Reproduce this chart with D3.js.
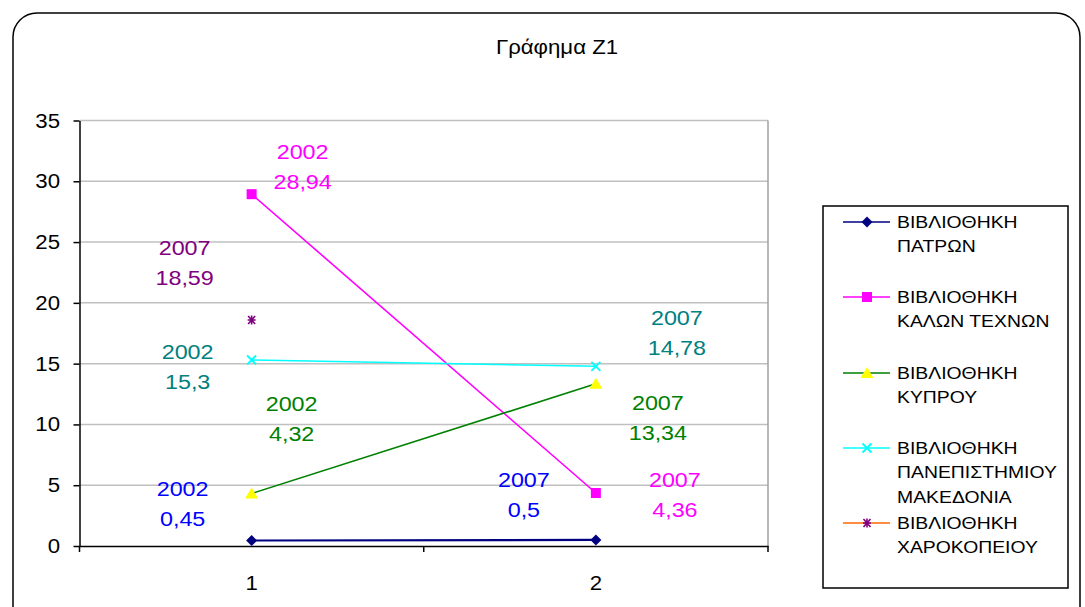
<!DOCTYPE html>
<html>
<head>
<meta charset="utf-8">
<script src="https://cdn.jsdelivr.net/npm/d3@7"></script>
<style>
  body { margin: 0; background: #fff; }
  text { font-family: "Liberation Sans", Arial, sans-serif; }
</style>
</head>
<body>
<div id="chart"></div>
<script>
// values
const categories = ['1', '2'];
const seriesNames = [
  ['ΒΙΒΛΙΟΘΗΚΗ', 'ΠΑΤΡΩΝ'],
  ['ΒΙΒΛΙΟΘΗΚΗ', 'ΚΑΛΩΝ ΤΕΧΝΩΝ'],
  ['ΒΙΒΛΙΟΘΗΚΗ', 'ΚΥΠΡΟΥ'],
  ['ΒΙΒΛΙΟΘΗΚΗ', 'ΠΑΝΕΠΙΣΤΗΜΙΟΥ', 'ΜΑΚΕΔΟΝΙΑ'],
  ['ΒΙΒΛΙΟΘΗΚΗ', 'ΧΑΡΟΚΟΠΕΙΟΥ']
];
const patron = [0.45, 0.5];
const kalonTexnon = [28.94, 4.36];
const kyprou = [4.32, 13.34];
const makedonia = [15.3, 14.78];
const xarokopeiou = [18.59, null];
const yearLabels = [
  ['2002', '2007'],
  ['2002', '2007'],
  ['2002', '2007'],
  ['2002', '2007'],
  ['2007', null]
];
const yTicks = [0, 5, 10, 15, 20, 25, 30, 35];

// styles per series
const styles = [
  {line: '#000080', marker: 'diamond', fill: '#000080', stroke: '#000080', label: '#0000ff'},
  {line: '#ff00ff', marker: 'square', fill: '#ff00ff', stroke: '#ff00ff', label: '#ff00ff'},
  {line: '#008000', marker: 'triangle', fill: '#ffff00', stroke: '#ffff00', label: '#008000'},
  {line: '#00ffff', marker: 'cross', fill: 'none', stroke: '#00ffff', label: '#008080'},
  {line: '#ff6600', marker: 'star', fill: 'none', stroke: '#800080', label: '#800080'}
];
// pixel offsets of each data label from its point
const labelOffsets = [
  [[-69, -52], [-72, -60]],
  [[51, -43], [79, -13]],
  [[40, -90], [62, 19]],
  [[-64, -8], [81, -49]],
  [[-67, -72], null]
];

const allSeries = [patron, kalonTexnon, kyprou, makedonia, xarokopeiou];

const W = 1085, H = 607, SX = 1.14;
const svg = d3.select('#chart').append('svg').attr('width', W).attr('height', H);

function label(g, x, y, txt, size, color, anchor) {
  return g.append('text')
    .attr('transform', 'translate(' + x + ',' + y + ') scale(' + SX + ',1)')
    .attr('text-anchor', anchor || 'middle')
    .attr('dy', '0.36em')
    .attr('font-size', size)
    .attr('fill', color || '#000')
    .text(txt);
}

// outer frame
svg.append('rect')
  .attr('x', 13).attr('y', 13).attr('width', 1067).attr('height', 620)
  .attr('rx', 24).attr('ry', 24)
  .attr('fill', '#fff').attr('stroke', '#000').attr('stroke-width', 1.5);

label(svg, 557, 47, 'Γράφημα Z1', 19.5);

const pLeft = 79.5, pRight = 768, pTop = 120.5, pBottom = 546;

const x = d3.scaleBand().domain(categories).range([pLeft, pRight]);
const y = d3.scaleLinear().domain([0, 35]).range([pBottom, pTop]);
const cx = c => x(c) + x.bandwidth() / 2;

// gridlines
svg.append('g').selectAll('line').data(yTicks.filter(d => d > 0)).join('line')
  .attr('x1', pLeft).attr('x2', pRight)
  .attr('y1', d => y(d)).attr('y2', d => y(d))
  .attr('stroke', '#c0c0c0').attr('stroke-width', 1.5);
svg.append('line')
  .attr('x1', pRight).attr('x2', pRight).attr('y1', pTop).attr('y2', pBottom)
  .attr('stroke', '#a0a0a0').attr('stroke-width', 1.5);

// y axis
const yAxis = svg.append('g').attr('transform', 'translate(' + pLeft + ',0)')
  .call(d3.axisLeft(y).tickValues(yTicks).tickSize(6).tickSizeOuter(0));
yAxis.select('.domain').attr('stroke', '#000').attr('stroke-width', 1.5);
yAxis.selectAll('.tick line').attr('stroke', '#000').attr('stroke-width', 1.5);
yAxis.selectAll('.tick text').remove();
yTicks.forEach(t => label(svg, 60, y(t), String(t), 19.5, '#000', 'end'));

// x axis
const xAxis = svg.append('g').attr('transform', 'translate(0,' + pBottom + ')')
  .call(d3.axisBottom(x).tickSize(0).tickSizeOuter(0));
xAxis.select('.domain').attr('stroke', '#000').attr('stroke-width', 1.5);
xAxis.selectAll('.tick text').remove();
[pLeft, (pLeft + pRight) / 2, pRight].forEach(px => {
  svg.append('line').attr('x1', px).attr('x2', px).attr('y1', pBottom).attr('y2', pBottom + 6)
    .attr('stroke', '#000').attr('stroke-width', 1.5);
});
categories.forEach(c => label(svg, cx(c), 583, c, 19.5));

// markers
function drawMarker(g, type, px, py, st) {
  if (type === 'diamond') {
    g.append('path').attr('d', 'M' + px + ',' + (py - 5.5) + 'L' + (px + 5.5) + ',' + py +
      'L' + px + ',' + (py + 5.5) + 'L' + (px - 5.5) + ',' + py + 'Z')
      .attr('fill', st.fill);
  } else if (type === 'square') {
    g.append('rect').attr('x', px - 5).attr('y', py - 5).attr('width', 10).attr('height', 10).attr('fill', st.fill);
  } else if (type === 'triangle') {
    g.append('path').attr('d', 'M' + px + ',' + (py - 6) + 'L' + (px + 6.5) + ',' + (py + 5) + 'L' + (px - 6.5) + ',' + (py + 5) + 'Z')
      .attr('fill', st.fill);
  } else if (type === 'cross') {
    g.append('path').attr('d', 'M' + (px - 4.5) + ',' + (py - 4.5) + 'L' + (px + 4.5) + ',' + (py + 4.5) +
      'M' + (px + 4.5) + ',' + (py - 4.5) + 'L' + (px - 4.5) + ',' + (py + 4.5))
      .attr('stroke', st.stroke).attr('stroke-width', 1.8).attr('fill', 'none');
  } else if (type === 'star') {
    g.append('path').attr('d', 'M' + (px - 3.5) + ',' + (py - 4) + 'L' + (px + 3.5) + ',' + (py + 4) +
      'M' + (px + 3.5) + ',' + (py - 4) + 'L' + (px - 3.5) + ',' + (py + 4) +
      'M' + (px - 4) + ',' + py + 'L' + (px + 4) + ',' + py +
      'M' + px + ',' + (py - 4.5) + 'L' + px + ',' + (py + 4.5))
      .attr('stroke', st.stroke).attr('stroke-width', 1.6).attr('fill', 'none');
  }
}

const fmt = v => String(v).replace('.', ',');
const plot = svg.append('g');
const line = d3.line().defined(d => d.v != null).x(d => cx(d.c)).y(d => y(d.v));

allSeries.forEach((vals, i) => {
  const st = styles[i];
  const pts = vals.map((v, j) => ({c: categories[j], v: v}));
  plot.append('path').datum(pts).attr('d', line)
    .attr('fill', 'none').attr('stroke', st.line).attr('stroke-width', i === 0 ? 2.2 : 1.6);
});
allSeries.forEach((vals, i) => {
  const st = styles[i];
  vals.forEach((v, j) => {
    if (v == null) return;
    drawMarker(plot, st.marker, cx(categories[j]), y(v), st);
  });
});

// data labels
allSeries.forEach((vals, i) => {
  vals.forEach((v, j) => {
    if (v == null || !labelOffsets[i][j]) return;
    const off = labelOffsets[i][j];
    const px = cx(categories[j]) + off[0];
    const py = y(v) + off[1];
    label(svg, px, py, yearLabels[i][j], 20.5, styles[i].label);
    label(svg, px, py + 30, fmt(v), 20.5, styles[i].label);
  });
});

// legend
const leg = svg.append('g');
leg.append('rect').attr('x', 823).attr('y', 206).attr('width', 245).attr('height', 382)
  .attr('fill', '#fff').attr('stroke', '#000').attr('stroke-width', 1.5);
const legRows = [222, 297, 373, 448, 523];
seriesNames.forEach((lines, i) => {
  const st = styles[i];
  const ry = legRows[i];
  leg.append('line').attr('x1', 843).attr('x2', 890).attr('y1', ry).attr('y2', ry)
    .attr('stroke', st.line).attr('stroke-width', 1.6);
  drawMarker(leg, st.marker, 867, ry, st);
  lines.forEach((t, k) => {
    label(leg, 897, ry + k * 24.3, t, 17, '#000', 'start');
  });
});
</script>
</body>
</html>
